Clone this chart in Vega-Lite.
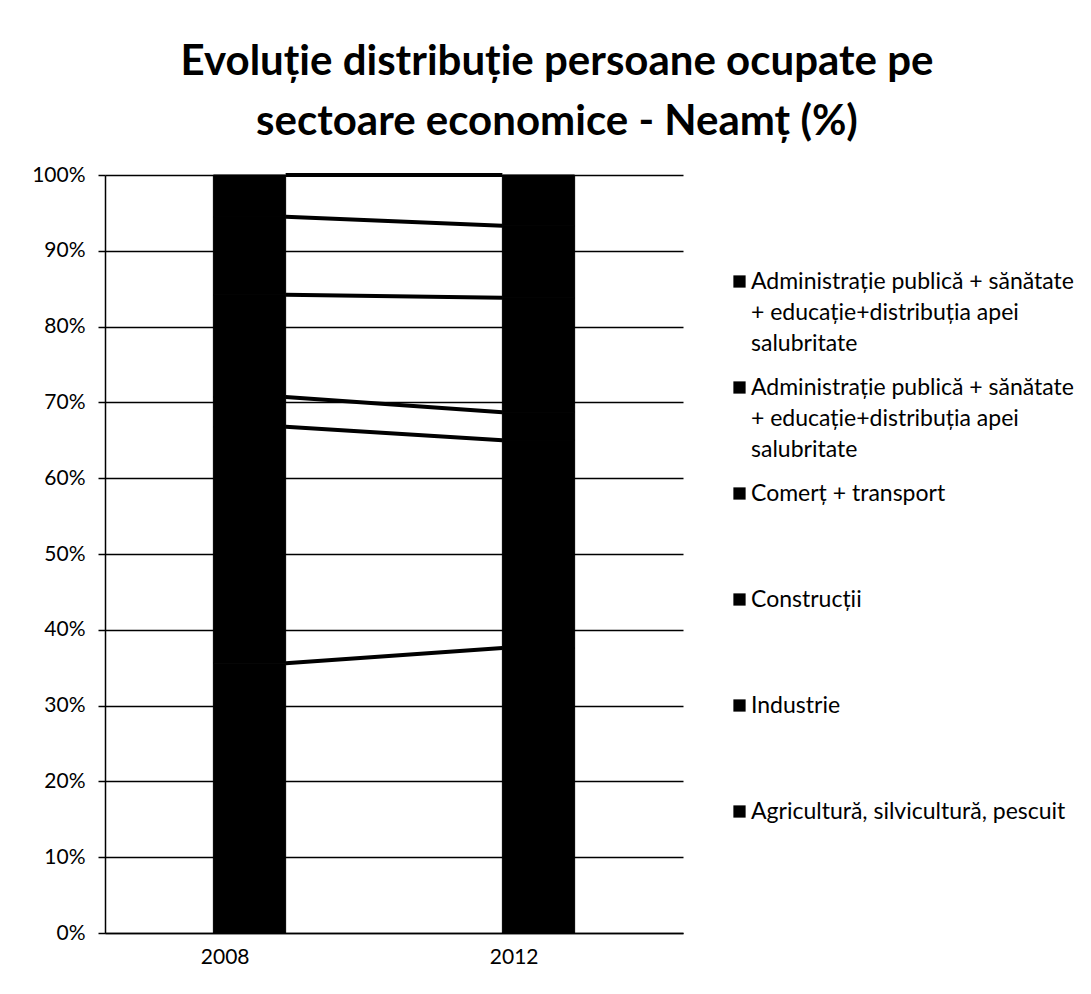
{
  "$schema": "https://vega.github.io/schema/vega-lite/v6.json",
  "autosize": {"type": "none"},
  "width": 578,
  "height": 758,
  "padding": {"left": 105, "top": 175, "right": 408, "bottom": 61},
  "background": "white",
  "title": {
    "text": ["Evoluție distribuție persoane ocupate pe", "sectoare economice - Neamț (%)"],
    "font": "Lato",
    "fontSize": 42,
    "fontWeight": "bold",
    "color": "black",
    "lineHeight": 60,
    "anchor": "middle",
    "dx": 163,
    "offset": 20
  },
  "data": {
    "values": [
      {"year": "2008", "series": "Agricultură, silvicultură, pescuit", "k": 1, "value": 35.6},
      {"year": "2008", "series": "Industrie", "k": 2, "value": 31.2},
      {"year": "2008", "series": "Construcții", "k": 3, "value": 3.9},
      {"year": "2008", "series": "Comerț + transport", "k": 4, "value": 13.5},
      {"year": "2008", "series": "Administrație publică + sănătate + educație+distribuția apei salubritate (1)", "k": 5, "value": 10.3},
      {"year": "2008", "series": "Administrație publică + sănătate + educație+distribuția apei salubritate (2)", "k": 6, "value": 5.5},
      {"year": "2012", "series": "Agricultură, silvicultură, pescuit", "k": 1, "value": 37.6},
      {"year": "2012", "series": "Industrie", "k": 2, "value": 27.4},
      {"year": "2012", "series": "Construcții", "k": 3, "value": 3.7},
      {"year": "2012", "series": "Comerț + transport", "k": 4, "value": 15.1},
      {"year": "2012", "series": "Administrație publică + sănătate + educație+distribuția apei salubritate (1)", "k": 5, "value": 9.5},
      {"year": "2012", "series": "Administrație publică + sănătate + educație+distribuția apei salubritate (2)", "k": 6, "value": 6.7}
    ]
  },
  "layer": [
    {
      "transform": [
        {"stack": "value", "groupby": ["year"], "sort": [{"field": "k", "order": "ascending"}], "as": ["y0", "y1"], "offset": "normalize"},
        {"pivot": "year", "value": "y1", "groupby": ["series"]}
      ],
      "mark": {"type": "rule", "color": "black", "strokeWidth": 4},
      "encoding": {
        "x": {"datum": "2008", "type": "nominal", "bandPosition": 1},
        "x2": {"datum": "2012", "bandPosition": 0},
        "y": {"field": "2008", "type": "quantitative"},
        "y2": {"field": "2012"}
      }
    },
    {
      "mark": {"type": "bar", "stroke": "black", "strokeWidth": 1},
      "encoding": {
        "x": {
          "field": "year",
          "type": "nominal",
          "scale": {"paddingInner": 0.75, "paddingOuter": 0.375},
          "axis": {"title": null, "labelAngle": 0, "ticks": false, "labelPadding": 24, "grid": false}
        },
        "y": {
          "field": "value",
          "type": "quantitative",
          "stack": "normalize",
          "scale": {"domain": [0, 1]},
          "axis": {"title": null, "format": "%", "values": [0, 0.1, 0.2, 0.3, 0.4, 0.5, 0.6, 0.7, 0.8, 0.9, 1], "grid": true, "ticks": true, "tickSize": 7, "labelPadding": 13}
        },
        "order": {"field": "k", "type": "quantitative"},
        "color": {
          "field": "series",
          "type": "nominal",
          "scale": {
            "domain": [
              "Administrație publică + sănătate + educație+distribuția apei salubritate (2)",
              "Administrație publică + sănătate + educație+distribuția apei salubritate (1)",
              "Comerț + transport",
              "Construcții",
              "Industrie",
              "Agricultură, silvicultură, pescuit"
            ],
            "range": ["black", "black", "black", "black", "black", "black"]
          },
          "legend": {
            "title": null,
            "orient": "none",
            "legendX": 623,
            "legendY": 95,
            "symbolType": "square",
            "symbolSize": 150,
            "symbolFillColor": "black",
            "symbolStrokeWidth": 0,
            "labelFont": "Lato",
            "labelFontSize": 23,
            "labelColor": "black",
            "labelLimit": 0,
            "labelOffset": 0,
            "gridAlign": "all",
            "rowPadding": 20,
            "labelExpr": "indexof(datum.label, 'Administrație') == 0 ? ['Administrație publică + sănătate', '+ educație+distribuția apei', 'salubritate'] : datum.label"
          }
        }
      }
    }
  ],
  "config": {
    "view": {"stroke": null},
    "axis": {
      "labelFont": "Lato",
      "labelFontSize": 21,
      "labelColor": "black",
      "domainColor": "black",
      "domainWidth": 1.5,
      "tickColor": "black",
      "tickWidth": 1.5,
      "gridColor": "black",
      "gridWidth": 1.5,
      "gridOpacity": 1
    },
    "style": {"guide-label": {"lineHeight": 31}}
  }
}
